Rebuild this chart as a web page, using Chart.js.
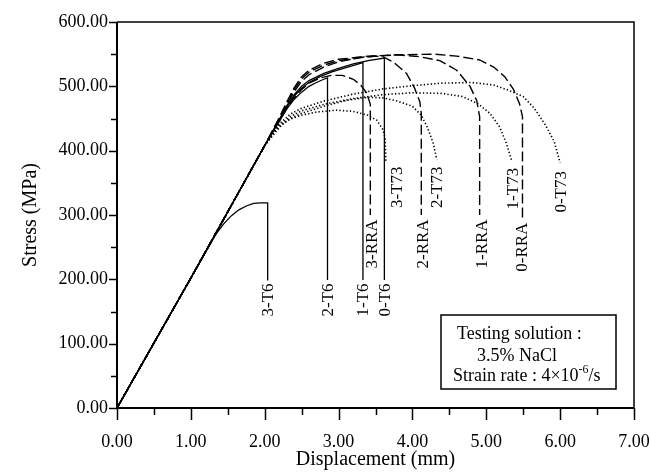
<!DOCTYPE html>
<html><head><meta charset="utf-8">
<script src="https://cdn.jsdelivr.net/npm/chart.js@4/dist/chart.umd.min.js"></script>
<style>html,body{margin:0;padding:0;background:#fff}</style>
</head><body>
<canvas id="c" width="650" height="472"></canvas>
<script>
// ---- data ----
const xTickValues = [0,1,2,3,4,5,6,7];
const yTickValues = [0,100,200,300,400,500,600];

const T6_3 = [[0,0],[1,202],[1.35,272],[1.45,287],[1.55,299],[1.65,308],[1.75,314],[1.85,318],[1.95,319],[2.04,319],[2.04,198]];
const T6_2 = [[0,0],[1,202],[2,408],[2.2,446],[2.3,465],[2.4,480],[2.5,491],[2.6,500],[2.7,506],[2.8,511],[2.85,513],[2.85,199]];
const T6_1 = [[0,0],[1,202],[2,408],[2.2,448],[2.3,468],[2.4,485],[2.5,497],[2.6,506],[2.75,515],[2.9,522],[3.1,529],[3.33,537],[3.33,199]];
const T6_0 = [[0,0],[1,202],[2,408],[2.2,449],[2.3,470],[2.4,487],[2.5,500],[2.6,509],[2.8,520],[3.0,528],[3.2,535],[3.4,540],[3.62,544],[3.62,199]];

const RRA_3 = [[0,0],[1,202],[2,408],[2.2,447],[2.3,466],[2.4,482],[2.5,495],[2.6,505],[2.75,513],[2.9,517],[3.05,517],[3.2,511],[3.3,502],[3.38,490],[3.43,472],[3.43,300]];
const RRA_2 = [[0,0],[1,202],[2,408],[2.2,450],[2.3,472],[2.4,492],[2.5,508],[2.6,518],[2.8,530],[3.0,538],[3.3,545],[3.5,547],[3.6,546],[3.75,537],[3.92,520],[4.03,497],[4.1,476],[4.12,458],[4.12,300]];
const RRA_1 = [[0,0],[1,202],[2,408],[2.2,451],[2.3,474],[2.4,495],[2.5,512],[2.6,522],[2.8,533],[3.0,540],[3.4,546],[3.8,549],[4.1,546],[4.37,540],[4.6,525],[4.78,500],[4.87,478],[4.91,453],[4.91,300]];
const RRA_0 = [[0,0],[1,202],[2,408],[2.2,452],[2.3,476],[2.4,498],[2.5,515],[2.6,525],[2.8,536],[3.0,542],[3.4,547],[3.8,549],[4.3,550],[4.6,547],[4.91,541],[5.1,530],[5.25,515],[5.37,495],[5.45,473],[5.49,453],[5.49,292]];

const T73_3 = [[0,0],[1,202],[2,408],[2.1,422],[2.16,431],[2.25,442],[2.34,449],[2.5,455],[2.7,460],[2.97,463],[3.2,461],[3.4,455],[3.52,447],[3.6,433],[3.63,420],[3.64,383]];
const T73_2 = [[0,0],[1,202],[2,408],[2.1,424],[2.2,438],[2.35,450],[2.5,458],[2.8,469],[3.1,478],[3.4,483],[3.6,482],[3.8,477],[4.0,469],[4.12,455],[4.2,437],[4.28,412],[4.33,386]];
const T73_1 = [[0,0],[1,202],[2,408],[2.1,425],[2.2,440],[2.35,453],[2.5,462],[2.8,472],[3.2,481],[3.6,487],[4.0,490],[4.4,489],[4.68,484],[4.9,472],[5.05,458],[5.18,437],[5.27,412],[5.34,386]];
const T73_0 = [[0,0],[1,202],[2,408],[2.1,426],[2.2,442],[2.35,457],[2.5,466],[2.8,477],[3.2,488],[3.6,496],[4.0,501],[4.4,505],[4.8,506],[5.1,502],[5.3,494],[5.5,484],[5.65,466],[5.8,440],[5.92,414],[6.0,381]];

const seriesNames = ['3-T6','2-T6','1-T6','0-T6','3-RRA','2-RRA','1-RRA','0-RRA','3-T73','2-T73','1-T73','0-T73'];
const seriesData  = [T6_3,T6_2,T6_1,T6_0,RRA_3,RRA_2,RRA_1,RRA_0,T73_3,T73_2,T73_1,T73_0];
const seriesKind  = ['T6','T6','T6','T6','RRA','RRA','RRA','RRA','T73','T73','T73','T73'];

// curve labels (rotated), anchored in data units
const labelText = ['3-T6','2-T6','1-T6','0-T6','3-RRA','2-RRA','1-RRA','0-RRA','3-T73','2-T73','1-T73','0-T73'];
const labelX    = [2.04,2.85,3.33,3.62,3.45,4.14,4.93,5.48,3.79,4.33,5.35,6.0];
const labelY    = [168,168,168,168,255,255,255,250,343,343,341,336];

const noteLines = ['Testing solution :','3.5% NaCl','Strain rate : 4×10'];

// ---- styles ----
const FONT = '"Liberation Serif","Times New Roman",serif';
const styleFor = {
  T6:  {borderDash: [], borderWidth: 1.3},
  RRA: {borderDash: [10,4], borderWidth: 1.4},
  T73: {borderDash: [1.3,2.2], borderWidth: 1.6}
};

const datasets = seriesData.map((arr,i) => ({
  label: seriesNames[i],
  data: arr.map(p => ({x:p[0], y:p[1]})),
  showLine: true,
  borderColor: '#000',
  backgroundColor: '#000',
  pointRadius: 0,
  tension: 0,
  fill: false,
  borderDash: styleFor[seriesKind[i]].borderDash,
  borderWidth: styleFor[seriesKind[i]].borderWidth
}));

const decor = {
  id: 'decor',
  afterDatasetsDraw(chart) {
    const {ctx, chartArea: a, scales: {x, y}} = chart;
    ctx.save();
    ctx.strokeStyle = '#000';
    ctx.setLineDash([]);
    // frame
    ctx.lineWidth = 1.5;
    ctx.beginPath();
    ctx.moveTo(a.left, a.top); ctx.lineTo(a.right, a.top); ctx.lineTo(a.right, a.bottom);
    ctx.stroke();
    ctx.lineWidth = 2;
    ctx.beginPath();
    ctx.moveTo(a.left, a.top); ctx.lineTo(a.left, a.bottom); ctx.lineTo(a.right, a.bottom);
    ctx.stroke();
    // ticks
    ctx.lineWidth = 1.5;
    ctx.beginPath();
    for (let v = 0; v <= 7.001; v += 0.5) {
      const px = Math.round(x.getPixelForValue(v)) + 0.5;
      const major = Math.abs(v - Math.round(v)) < 1e-6;
      ctx.moveTo(px, a.bottom); ctx.lineTo(px, a.bottom + (major ? 12 : 7));
    }
    for (let v = 0; v <= 600.1; v += 50) {
      const py = Math.round(y.getPixelForValue(v)) + 0.5;
      const major = v % 100 === 0;
      ctx.moveTo(a.left, py); ctx.lineTo(a.left - (major ? 8 : 6), py);
    }
    ctx.stroke();
    // curve labels
    ctx.fillStyle = '#000';
    ctx.font = '17px ' + FONT;
    ctx.textAlign = 'center';
    ctx.textBaseline = 'middle';
    labelText.forEach((t, i) => {
      ctx.save();
      ctx.translate(x.getPixelForValue(labelX[i]), y.getPixelForValue(labelY[i]));
      ctx.rotate(-Math.PI/2);
      ctx.fillText(t, 0, 1);
      ctx.restore();
    });
    // note box
    const bx = a.right - 193, by = a.bottom - 93, bw = 175, bh = 74;
    ctx.fillStyle = '#fff';
    ctx.fillRect(bx, by, bw, bh);
    ctx.lineWidth = 1.5;
    ctx.strokeRect(bx, by, bw, bh);
    ctx.fillStyle = '#000';
    ctx.textAlign = 'left';
    ctx.textBaseline = 'alphabetic';
    ctx.font = '18px ' + FONT;
    ctx.fillText(noteLines[0], bx + 16, by + 24);
    ctx.fillText(noteLines[1], bx + 36, by + 46);
    ctx.fillText(noteLines[2], bx + 12, by + 66);
    let w = ctx.measureText(noteLines[2]).width;
    ctx.font = '12px ' + FONT;
    ctx.fillText('-6', bx + 12 + w, by + 58);
    const w2 = ctx.measureText('-6').width;
    ctx.font = '18px ' + FONT;
    ctx.fillText('/s', bx + 12 + w + w2, by + 66);
    ctx.restore();
  }
};

new Chart(document.getElementById('c'), {
  type: 'scatter',
  data: { datasets },
  options: {
    responsive: false,
    devicePixelRatio: 1,
    animation: false,
    layout: { padding: { left: 0, right: 16, top: 22, bottom: 0 } },
    plugins: { legend: { display: false }, tooltip: { enabled: false } },
    scales: {
      x: {
        type: 'linear', min: 0, max: 7,
        afterFit: s => { s.height = 64; s.paddingLeft = 0; s.paddingRight = 0; },
        afterBuildTicks: s => { s.ticks = xTickValues.map(v => ({value: v})); },
        grid: { display: false, drawTicks: false },
        border: { display: false },
        ticks: { color: '#000', padding: 23, maxRotation: 0, font: { family: FONT, size: 18 }, callback: v => Number(v).toFixed(2) },
        title: { display: true, text: 'Displacement (mm)', color: '#000', font: { family: FONT, size: 20 }, padding: { top: 0, bottom: 0 } }
      },
      y: {
        type: 'linear', min: 0, max: 600,
        afterFit: s => { s.width = 117; s.paddingTop = 0; s.paddingBottom = 0; },
        afterBuildTicks: s => { s.ticks = yTickValues.map(v => ({value: v})); },
        grid: { display: false, drawTicks: false },
        border: { display: false },
        ticks: { color: '#000', padding: 9, font: { family: FONT, size: 18 }, callback: v => Number(v).toFixed(2) },
        title: { display: true, text: 'Stress (MPa)', color: '#000', font: { family: FONT, size: 20 }, padding: { top: 19, bottom: 0 } }
      }
    }
  },
  plugins: [decor]
});
</script>
</body></html>
